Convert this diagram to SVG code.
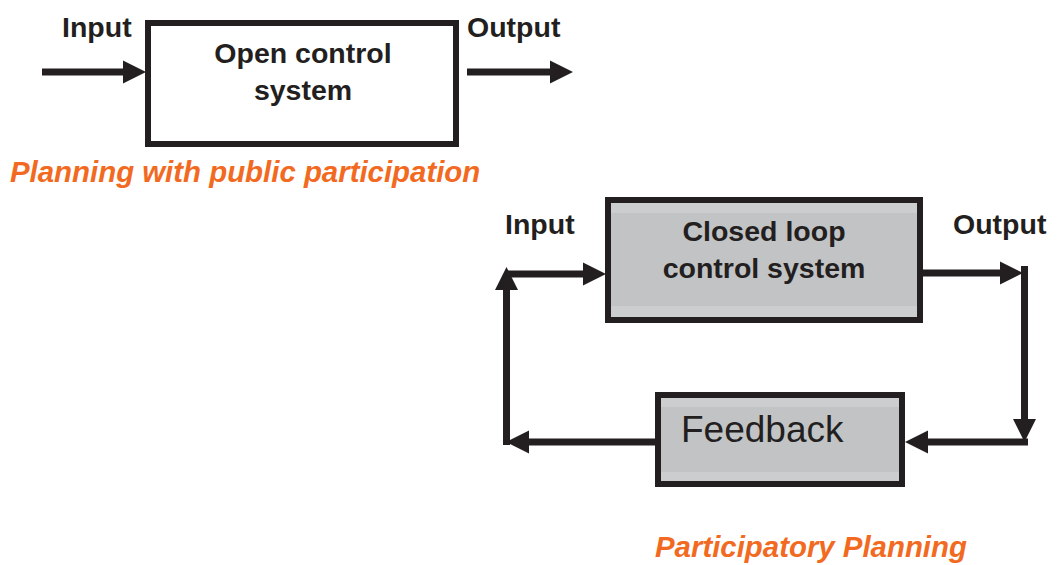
<svg xmlns="http://www.w3.org/2000/svg" width="1057" height="565" viewBox="0 0 1057 565">
<defs>
<marker id="ah" markerUnits="userSpaceOnUse" markerWidth="24" markerHeight="24" refX="0" refY="11.5" orient="auto" overflow="visible">
<path d="M0,0 L23,11.5 L0,23 Z" fill="#231f20"/>
</marker>
<style>
.lbl{font-family:"Liberation Sans",Arial,sans-serif;font-weight:bold;font-size:28.5px;fill:#231f20}
.box{stroke:#231f20;stroke-width:6}
.ttl{font-family:"Liberation Sans",Arial,sans-serif;font-weight:bold;font-style:italic;font-size:29.4px;fill:#f26a21}
.conn{stroke:#231f20;stroke-width:7;fill:none;marker-end:url(#ah)}
.band{fill:#cbcdcf}
</style>
</defs>
<rect width="1057" height="565" fill="#ffffff"/>

<g id="open-system">
<rect class="box" x="148" y="23" width="308" height="121" fill="#ffffff"/>
<text class="lbl" x="303" y="63" text-anchor="middle">Open control</text>
<text class="lbl" x="303" y="100" text-anchor="middle">system</text>
</g>

<g id="closed-system">
<rect class="box" x="608" y="200" width="312" height="120" fill="#c1c3c5"/>
<rect class="band" x="611" y="203" width="306" height="10"/>
<rect class="band" x="611" y="306" width="306" height="11"/>
<text class="lbl" x="764" y="241" text-anchor="middle">Closed loop</text>
<text class="lbl" x="764" y="278" text-anchor="middle">control system</text>
</g>

<g id="feedback">
<rect class="box" x="658" y="395" width="244" height="89" fill="#c1c3c5"/>
<rect class="band" x="661" y="398" width="238" height="9"/>
<rect class="band" x="661" y="472" width="238" height="9"/>
<text x="681" y="442" font-family="'Liberation Sans',Arial,sans-serif" font-size="37" fill="#231f20">Feedback</text>
</g>

<g id="labels">
<text class="lbl" x="62" y="37">Input</text>
<text class="lbl" x="467" y="37">Output</text>
<text class="lbl" x="505" y="234">Input</text>
<text class="lbl" x="953" y="234">Output</text>
<text class="ttl" x="10" y="182">Planning with public participation</text>
<text class="ttl" x="655" y="557">Participatory Planning</text>
</g>

<g id="connectors">
<path class="conn" d="M42,72 H123"/>
<path class="conn" d="M467,72 H550"/>
<path class="conn" d="M506.5,274 H583"/>
<path class="conn" d="M506.5,445 V290"/>
<path class="conn" d="M920,273 H1000"/>
<path class="conn" d="M1024.5,266 V419"/>
<path class="conn" d="M1028,442 H928"/>
<path class="conn" d="M655,442 H529"/>
</g>
</svg>
